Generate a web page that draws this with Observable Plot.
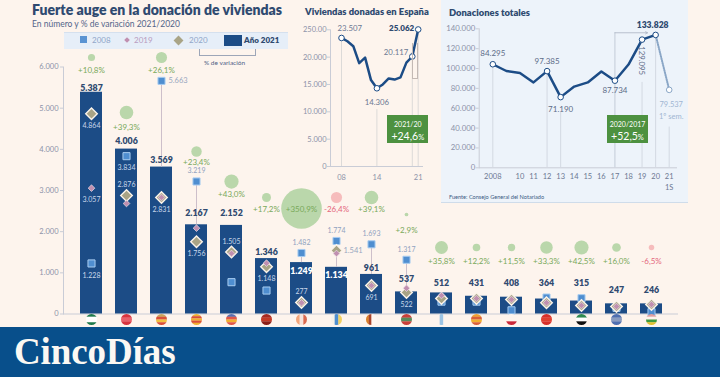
<!DOCTYPE html>
<html lang="es"><head><meta charset="utf-8">
<script src="https://cdn.jsdelivr.net/npm/d3@7"></script>
<script src="https://cdn.jsdelivr.net/npm/@observablehq/plot@0.6"></script>
<style>
html,body{margin:0;padding:0;background:#fdf4ed;overflow:hidden}
#page{position:relative;width:720px;height:377px;font-family:Lato,sans-serif;overflow:hidden}
#page>*{position:absolute}
.t{white-space:nowrap;line-height:1}
svg{overflow:visible}
</style></head><body><div id="page"></div>
<script>
// ---------- main chart data ----------
const regions = ["AND","MAD","VAL","CAT","ARA","CYL","CLM","CAN","BAL","PVA","GAL","ARG","CNT","MUR","EXT","AST","RIO"];
const y2021 = [5387,4006,3569,2167,2152,1346,1249,1134,961,537,512,431,408,364,315,247,246];
const y2020 = [4864,2876,2831,1756,1505,1148,277,1541,691,522,377,376,350,273,207,182,230];
const y2019 = [3057,2684,2831,2085,1470,1235,270,1470,691,627,450,376,350,273,207,182,230];
const y2008 = [1228,3834,5663,3219,773,570,1482,1774,1693,1317,300,300,90,400,384,150,44];
const pct   = [10.8,39.3,26.1,23.4,43.0,17.2,350.9,-26.4,39.1,2.9,35.8,12.2,11.5,33.3,42.5,16.0,-6.5];
// heights of the annotations, in the units of the y scale
const bubbleLevel = [6230,4894,6230,3947,3218,2830,2563,2830,2830,2417,1615,1615,1615,1615,1615,1615,1615];
const pctLevel    = [5915,4530,5915,3680,2903,2538,2538,2538,2538,2028,1275,1275,1275,1275,1275,1275,1275];
const totalLevel  = [5477,4190,3741,2441,2441,1501,1040,935,1112,838,748,741,758,758,758,571,571];
// labelled markers: [region index, series, placement]
const markerLabels = [
 [0,"y2020","below"],[0,"y2019","below"],[0,"y2008","below"],
 [1,"y2008","below"],[1,"y2020","above"],
 [2,"y2008","right"],[2,"y2020","below"],
 [3,"y2008","above"],[3,"y2020","below"],
 [4,"y2020","above"],
 [5,"y2020","below"],
 [6,"y2008","above"],[6,"y2020","above"],
 [7,"y2008","above"],[7,"y2020","right"],
 [8,"y2008","above"],[8,"y2020","below"],
 [9,"y2008","above"],[9,"y2020","below"]
];
// flags: stripes top to bottom ("h") or left to right ("v")
const flags = [
 ["h","#1f7a4c","#ffffff","#ffffff","#1f7a4c"],
 ["h","#d8343f","#e8606a","#d8343f"],
 ["h","#c9a35a","#d9503a","#f0c040","#d9503a"],
 ["h","#f0b030","#d9503a","#f0b030","#d9503a","#f0b030"],
 ["h","#5a6fb0","#e0584a","#f0b030","#e0584a"],
 ["h","#a82a20","#c43a25","#8c2018"],
 ["v","#f2a57a","#f6e4dc","#d96a50"],
 ["v","#f6f2e8","#4f8fd0","#f0d060"],
 ["v","#d9802a","#a8442c","#fff6f0","#fff6f0"],
 ["h","#c9403a","#5a8a5a","#c9403a"],
 ["v","#fdf4ed","#9cc4e4","#fdf4ed"],
 ["h","#f0a030","#d9603a","#f0b030","#d9603a"],
 ["h","#fdf4ed","#fdf4ed","#c9283a"],
 ["h","#d8302a","#e04030","#d8302a"],
 ["h","#2e8a50","#ffffff","#111111"],
 ["h","#4f6fb0","#8a9cc0","#4f6fb0"],
 ["h","#e0a0a0","#fdf4ed","#3f9a3f","#e0c030"]
];
// ---------- Spain line data ----------
const spainYears = [2008,2009,2010,2011,2012,2013,2014,2015,2016,2017,2018,2019,2020,2021];
const spainValues = [23507,22900,22000,18900,19900,15800,14306,15000,16100,15900,16300,19000,20117,25062];
const spainTickValues = [0,5000,10000,15000,20000,25000];
const spainTickText = ["0","5.000","10.000","15.000","20.000","250.00"];
const spainXTicks = [2008,2014,2021];
const spainXText = ["08","14","21"];
// ---------- total line data ----------
const totalYears = [2008,2009,2010,2011,2012,2013,2014,2015,2016,2017,2018,2019,2020];
const totalValues = [104300,97500,95500,86000,97385,71190,81800,86000,97000,87734,104000,129095,133828];
const semYears = [2020,2021];
const semValues = [133828,78500];
const totalXTicks = [2008,2010,2011,2012,2013,2014,2015,2016,2017,2018,2019,2020,2021];
const totalXText = ["2008","10","11","12","13","14","15","16","17","18","19","20","21"];
const totalYTicks = [0,20000,40000,60000,80000,100000,120000,140000];

const es = d3.formatLocale({decimal:",",thousands:".",grouping:[3],currency:["","€"]});
const num = es.format(",d");
const pctFmt = v => (v>0?"+":"")+es.format(".1f")(v).replace(/^[−-]/,"-")+"%";

const rows = regions.map((r,i)=>({r,i,y2021:y2021[i],y2020:y2020[i],y2019:y2019[i],y2008:y2008[i],pct:pct[i],
  bubble:bubbleLevel[i],pctY:pctLevel[i],totalY:totalLevel[i]}));
const labels = markerLabels.map(([i,s,place])=>({r:regions[i],v:rows[i][s],place,inside:rows[i][s]<y2021[i]&&place!=="right"}));

function flagUri(def){
  const [dir,...cols]=def; const n=cols.length, s=22;
  const parts=cols.map((c,k)=> dir==="h"
    ? `<rect x="0" y="${k*s/n}" width="${s}" height="${s/n+.3}" fill="${c}"/>`
    : `<rect y="0" x="${k*s/n}" height="${s}" width="${s/n+.3}" fill="${c}"/>`).join("");
  const svg=`<svg xmlns="http://www.w3.org/2000/svg" width="${s}" height="${s}" viewBox="0 0 ${s} ${s}"><defs><clipPath id="c"><circle cx="11" cy="11" r="11"/></clipPath></defs><g clip-path="url(#c)">${parts}</g></svg>`;
  return "data:image/svg+xml,"+encodeURIComponent(svg);
}

const BAR="#1c4c86", TXT="#2f4a70", AX="#c9ccd6", TICK="#8c92a8";
const FONT="Lato,sans-serif";
const stBase={background:"transparent",fontFamily:FONT,overflow:"visible",maxWidth:"none"};
const page=document.getElementById("page");
const add=(el,l,t)=>{el.style.position="absolute";el.style.left=l+"px";el.style.top=t+"px";page.appendChild(el);return el;};
const div=(html,l,t,css="")=>{const d=document.createElement("div");d.className="t";d.innerHTML=html;d.style.cssText=css;return add(d,l,t);};

// ---------- main chart ----------
const main=Plot.plot({
  width:720,height:327,marginLeft:63,marginRight:43,marginTop:66.5,marginBottom:13.5,
  style:stBase,
  x:{type:"band",domain:regions,range:[60.2,681.6],padding:0.36,axis:null},
  y:{domain:[0,6000]},
  r:{type:"identity"},
  marks:[
    Plot.frame({anchor:"left",stroke:AX}),
    Plot.frame({anchor:"bottom",stroke:AX}),
    Plot.axisY({ticks:[0,1000,2000,3000,4000,5000,6000],tickFormat:num,tickSize:3,tickPadding:2,fontSize:7.5,color:TICK,stroke:AX,label:null}),
    Plot.barY(rows,{x:"r",y:"y2021",fill:BAR}),
    Plot.ruleX(rows.filter(d=>d.y2008>d.y2021),{x:"r",y1:"y2021",y2:"y2008",stroke:"#cdbfca",strokeWidth:1}),
    Plot.ruleX(rows.filter(d=>d.y2020>d.y2021),{x:"r",y1:"y2021",y2:"y2020",stroke:"#cdbfca",strokeWidth:1}),
    Plot.dot(rows,{x:"r",y:"y2008",symbol:"square",r:4,fill:"#4f8ed0",stroke:"#a8ccf0",strokeWidth:1}),
    Plot.dot(rows,{x:"r",y:"y2020",symbol:"diamond2",r:5.2,fill:"#a9a486",stroke:"#fbf3ea",strokeWidth:1.4}),
    Plot.dot(rows,{x:"r",y:"y2019",symbol:"diamond2",r:3,fill:"#c08fb0",stroke:"#ecdfe6",strokeWidth:.7}),
    Plot.dot(rows,{x:"r",y:"bubble",r:d=>1.084*Math.sqrt(Math.abs(d.pct)),fill:d=>d.pct<0?"#f6bcbc":"#bad7ab",stroke:null}),
    Plot.text(rows,{x:"r",y:"pctY",text:d=>pctFmt(d.pct),fontSize:8,fill:d=>d.pct<0?"#e4667c":"#79a95a",lineAnchor:"middle"}),
    Plot.text(rows,{x:"r",y:"totalY",text:d=>num(d.y2021),fontSize:8.8,fontWeight:800,fill:d=>(d.r==="CLM"||d.r==="CAN")?"#ffffff":TXT,lineAnchor:"middle"}),
    Plot.text(labels.filter(d=>d.place==="below"),{x:"r",y:"v",dy:12,text:d=>num(d.v),fontSize:7,fill:d=>d.inside?"#c9d7ea":"#90a2c0",lineAnchor:"middle"}),
    Plot.text(labels.filter(d=>d.place==="above"),{x:"r",y:"v",dy:-10.5,text:d=>num(d.v),fontSize:7,fill:d=>d.inside?"#c9d7ea":"#90a2c0",lineAnchor:"middle"}),
    Plot.text(labels.filter(d=>d.place==="right"),{x:"r",y:"v",dx:7,textAnchor:"start",text:d=>num(d.v),fontSize:7.5,fill:"#97a6bf",lineAnchor:"middle"}),
    Plot.image(rows,{x:"r",y:()=>0,dy:5.5,width:11,height:11,src:d=>flagUri(flags[d.i])})
  ]
});
add(main,0,0);

// ---------- Spain ----------
const A_L=296;
const spain=spainYears.map((x,i)=>({x,v:spainValues[i]}));
const spainDots=[2008,2014,2020,2021].map(x=>spain.find(d=>d.x===x));
const chartA=Plot.plot({
  width:143,height:190,marginLeft:330-A_L,marginRight:A_L+143-422,marginTop:29.3,marginBottom:24,
  style:stBase,
  x:{domain:[2008,2021],range:[341-A_L,417.7-A_L],axis:null},
  y:{domain:[0,25000]},
  marks:[
    Plot.frame({anchor:"left",stroke:AX}),
    Plot.frame({anchor:"bottom",stroke:AX}),
    Plot.axisY({ticks:spainTickValues,tickFormat:v=>spainTickText[spainTickValues.indexOf(v)],tickSize:3,tickPadding:1,fontSize:7.5,color:TICK,stroke:AX,label:null}),
    Plot.text(spainXTicks,{x:d=>d,frameAnchor:"bottom",dy:11,text:d=>spainXText[spainXTicks.indexOf(d)],fontSize:7.5,fill:TICK,lineAnchor:"middle"}),
    Plot.ruleX([2008,2020,2021],{x:d=>d,y1:0,y2:d=>spain.find(s=>s.x===d).v,stroke:"#dcdad8",strokeWidth:1}),
    Plot.ruleX([2014],{x:d=>d,y1:0,y2:10400,stroke:"#dcdad8",strokeWidth:1}),
    Plot.line(spain,{x:"x",y:"v",stroke:BAR,strokeWidth:2.5}),
    Plot.dot(spainDots,{x:"x",y:"v",r:2.8,fill:"#fff",stroke:BAR,strokeWidth:1}),
    Plot.text([spain[0]],{x:"x",y:"v",dx:-4,dy:-9,textAnchor:"start",text:d=>num(d.v),fontSize:7.8,fill:"#6c7892",lineAnchor:"middle"}),
    Plot.text([spain[6]],{x:"x",y:"v",dy:14,text:d=>num(d.v),fontSize:7.8,fill:"#6c7892",lineAnchor:"middle"}),
    Plot.text([spain[12]],{x:"x",y:"v",dx:-4,dy:-4,textAnchor:"end",text:d=>num(d.v),fontSize:7.8,fill:"#6c7892",lineAnchor:"middle"}),
    Plot.text([spain[13]],{x:"x",y:"v",dx:-4,dy:-1,textAnchor:"end",text:d=>num(d.v),fontSize:8,fontWeight:800,fill:TXT,lineAnchor:"middle"})
  ]
});
add(chartA,A_L,0);

// ---------- totals ----------
const B_L=441;
const total=totalYears.map((x,i)=>({x,v:totalValues[i]}));
const sem=semYears.map((x,i)=>({x,v:semValues[i]}));
const dotsB=[2008,2012,2013,2017,2019,2020].map(x=>total.find(d=>d.x===x));
const chartB=Plot.plot({
  width:247,height:202,marginLeft:478.7-B_L,marginRight:B_L+247-676,marginTop:28.3,marginBottom:202-167.3,
  style:{...stBase,background:"#edf3fa",borderBottom:"1px solid #cfdcea",boxSizing:"content-box"},
  x:{domain:[2008,2021],range:[492.3-B_L,668.7-B_L],axis:null},
  y:{domain:[0,140000]},
  marks:[
    Plot.frame({anchor:"left",stroke:AX}),
    Plot.frame({anchor:"bottom",stroke:AX}),
    Plot.axisY({ticks:totalYTicks,tickFormat:num,tickSize:3,tickPadding:1,fontSize:7.8,color:TICK,stroke:AX,label:null}),
    Plot.text(totalXTicks,{x:d=>d,frameAnchor:"bottom",dy:9,text:d=>totalXText[totalXTicks.indexOf(d)],fontSize:7.5,fill:"#6c7892",lineAnchor:"middle"}),
    Plot.text(["1S"],{x:()=>2021,frameAnchor:"bottom",dy:20,text:d=>d,fontSize:7.5,fill:"#6c7892",lineAnchor:"middle"}),
    Plot.ruleX([2008,2012,2020],{x:d=>d,y1:0,y2:d=>total.find(s=>s.x===d).v,stroke:"#d3d9e2",strokeWidth:1}),
    Plot.ruleX([2013],{x:d=>d,y1:0,y2:56000,stroke:"#d3d9e2",strokeWidth:1}),
    Plot.ruleX([2017],{x:d=>d,y1:0,y2:136000,stroke:"#c3cbd8",strokeWidth:1}),
    Plot.ruleX([2019],{x:d=>d,y1:0,y2:86000,stroke:"#d3d9e2",strokeWidth:1}),
    Plot.ruleX([2021],{x:d=>d,y1:0,y2:41000,stroke:"#d3d9e2",strokeWidth:1}),
    Plot.arrow([{x1:2017,x2:2019.4}],{x1:"x1",x2:"x2",y1:()=>136000,y2:()=>136000,stroke:"#a9b2c2",strokeWidth:.8,headLength:4,bend:0}),
    Plot.line(sem,{x:"x",y:"v",stroke:"#8aa6c6",strokeWidth:2,strokeDasharray:"1.2 1.2"}),
    Plot.line(total,{x:"x",y:"v",stroke:BAR,strokeWidth:2.5}),
    Plot.dot(dotsB,{x:"x",y:"v",r:2.8,fill:"#fff",stroke:BAR,strokeWidth:1}),
    Plot.dot([sem[1]],{x:"x",y:"v",r:2.8,fill:"#fff",stroke:"#8aa6c6",strokeWidth:1}),
    Plot.text(["84.295"],{x:()=>2008,y:()=>104300,dy:-11,text:d=>d,fontSize:8,fill:"#5d6c88",lineAnchor:"middle"}),
    Plot.text([total[4]],{x:"x",y:"v",dy:-10,text:d=>num(d.v),fontSize:8,fill:"#5d6c88",lineAnchor:"middle"}),
    Plot.text([total[5]],{x:"x",y:"v",dy:12,text:d=>num(d.v),fontSize:8,fill:"#5d6c88",lineAnchor:"middle"}),
    Plot.text([total[9]],{x:"x",y:"v",dy:10,text:d=>num(d.v),fontSize:8,fill:"#5d6c88",lineAnchor:"middle"}),
    Plot.text([total[11]],{x:"x",y:"v",dx:-1,dy:21,rotate:90,text:d=>num(d.v),fontSize:7.8,fill:"#5d6c88",lineAnchor:"middle"}),
    Plot.text([total[12]],{x:"x",y:"v",dx:-3,dy:-10,text:d=>num(d.v),fontSize:8.6,fontWeight:800,fill:TXT,lineAnchor:"middle"}),
    Plot.text(["79.537"],{x:()=>2021,y:()=>64000,text:d=>d,dx:2,fontSize:7.5,fill:"#9fb6d2",lineAnchor:"middle"}),
    Plot.text(["1º sem."],{x:()=>2021,y:()=>52000,text:d=>d,dx:2,fontSize:7.5,fill:"#9fb6d2",lineAnchor:"middle"})
  ]
});
add(chartB,B_L,0);

// ---------- page furniture ----------
div("Fuerte auge en la donación de viviendas",32,3,`font-size:14px;font-weight:800;color:${TXT};`);
div("En número y % de variación 2021/2020",32,20,"font-size:8.5px;color:#53658a;");
const band=document.createElement("div");band.style.cssText="width:224px;height:17px;background:#e6eef8;border-top:1px solid #d5e0ee;box-sizing:border-box";add(band,64,32);
const lgText="font-size:8px;";
div("",80,36,"width:7px;height:7px;background:#5a93d2;");
div("2008",92,36,lgText+"color:#90a6c8;");
div("",125,38,"width:4px;height:4px;background:#c08fb0;transform:rotate(45deg);");
div("2019",134,36,lgText+"color:#b89cc0;");
div("",175,37,"width:7px;height:7px;background:#a9a486;transform:rotate(45deg);");
div("2020",189,36,lgText+"color:#90a6c8;");
div("",223.5,35,`width:18px;height:11px;background:${BAR};`);
div("Año 2021",244,36,`font-size:8px;font-weight:800;color:${TXT};`);
div("",199,49,"width:57px;height:7px;border:1px solid #9da6b8;border-top:none;box-sizing:border-box;");
div("% de variación",204,60,"font-size:6.5px;color:#4f6286;");

div("Viviendas donadas en España",305,7,`font-size:9.4px;font-weight:800;color:${TXT};`);
div("Donaciones totales",449,8,`font-size:9.4px;font-weight:800;color:${TXT};`);
div("",411.7,43,"width:6px;height:36px;border-left:1px solid #c3b9b4;border-right:1px solid #c3b9b4;border-bottom:1px solid #c3b9b4;box-sizing:border-box;");

const box=(l,t,a,b)=>div(`<div style="font-size:7px;margin-top:6px">${a}</div><div style="font-size:10.5px;margin-top:3px">${b}<span style="font-size:7.5px">%</span></div>`,l,t,"width:41px;height:28px;background:#4d9140;color:#fff;text-align:center;");
box(387.3,115,"2021/20","+24,6");
box(607,115,"2020/2017","+52,5");
div("Fuente: Consejo General del Notariado",449,194,"font-size:5.6px;color:#3b5a82;");

const banner=document.createElement("div");banner.style.cssText="width:720px;height:50px;background:#084f8b;";add(banner,0,327);
div("CincoDías",14,333,"font-family:'Liberation Serif',serif;font-size:37px;font-weight:700;color:#fbf8f3;letter-spacing:-.1px;");
</script></body></html>
